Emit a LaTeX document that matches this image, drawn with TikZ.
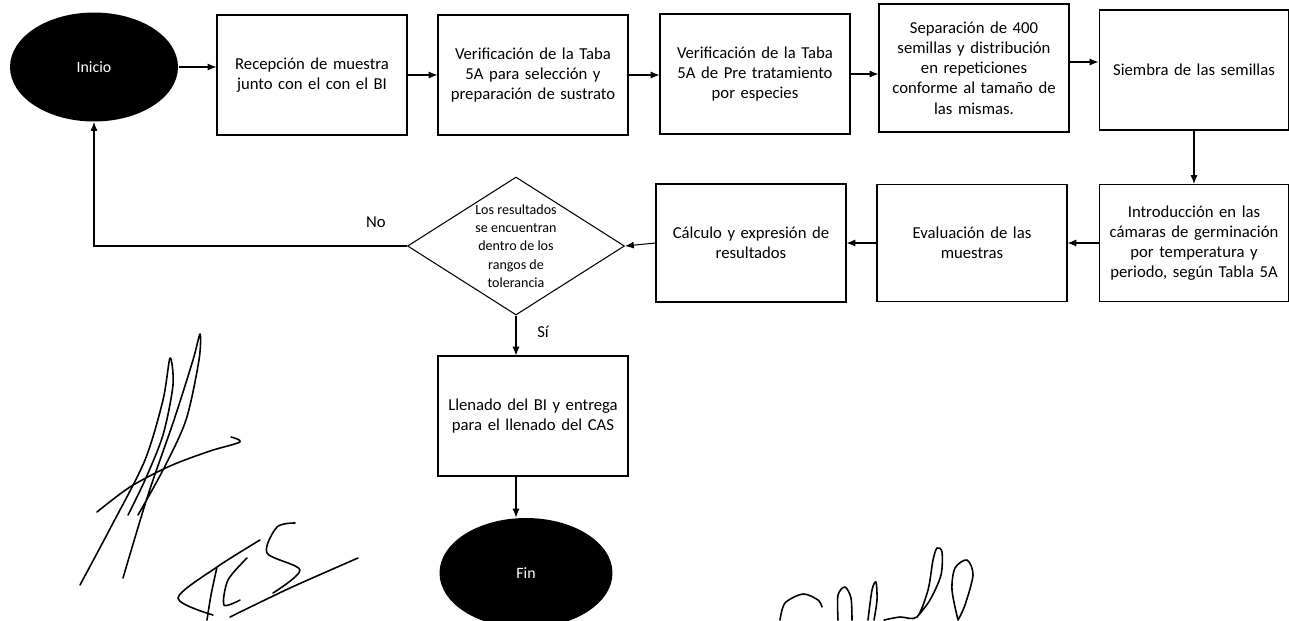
\documentclass[tikz,border=0pt]{standalone}
\usepackage{fontspec}
\setmainfont{Carlito}
\usepackage{tikz}
\usetikzlibrary{shapes.geometric,arrows.meta}

\begin{document}
\begin{tikzpicture}[x=0.02cm, y=-0.02cm, line width=0.6pt,
    paso/.style={draw, rectangle, minimum width=3.8cm, minimum height=2.4cm,
        inner xsep=0.04cm, text width=3.7cm, align=center, font=\fontsize{9.5}{11.5}\selectfont},
    terminal/.style={ellipse, fill=black, text=white, font=\fontsize{9}{10}\selectfont},
    decision/.style={draw, diamond, minimum width=4.34cm, minimum height=2.76cm, inner sep=0pt},
    textodec/.style={align=center, font=\fontsize{8}{10.4}\selectfont},
    etiqueta/.style={font=\fontsize{9.5}{11}\selectfont},
    flecha/.style={-{Latex[length=5pt,width=4pt]}},
    firma/.style={line width=0.9pt, line cap=round, line join=round}]
\useasboundingbox (0,0) rectangle (1289,620);

\node[terminal, minimum width=3.36cm, minimum height=2.18cm] (ini) at (94,67) {Inicio};
\node[paso] (recep) at (312,75) {Recepción de muestra\\ junto con el con el BI};
\node[paso] (verif1) at (533,75) {Verificación de la Taba\\ 5A para selección y\\ preparación de sustrato};
\node[paso] (verif2) at (755,74) {Verificación de la Taba\\ 5A de Pre tratamiento\\ por especies};
\node[paso, minimum height=2.56cm] (separ) at (974,68) {Separación de 400\\ semillas y distribución\\ en repeticiones\\ conforme al tamaño de\\ las mismas.};
\node[paso] (siembra) at (1194,70) {Siembra de las semillas};
\node[paso, minimum height=2.34cm] (intro) at (1194,243) {Introducción en las\\ cámaras de germinación\\ por temperatura y\\ periodo, según Tabla 5A};
\node[paso, minimum height=2.34cm] (evalua) at (972,243) {Evaluación de las\\ muestras};
\node[paso, minimum height=2.36cm] (calculo) at (751,243) {Cálculo y expresión de\\ resultados};
\node[decision, label={[textodec]center:Los resultados\\ se encuentran\\ dentro de los\\ rangos de\\ tolerancia}] (rango) at (516,246) {};
\node[paso] (llenado) at (533,416) {Llenado del BI y entrega\\ para el llenado del CAS};
\node[terminal, minimum width=3.46cm, minimum height=2.2cm] (fin) at (526,573) {Fin};

\node[etiqueta] (no) at (376,222) {No};
\node[etiqueta] (si) at (543,332) {Sí};

\draw[flecha] (ini.east) -- (ini.east -| recep.west);
\draw[flecha] (recep.east) -- (recep.east -| verif1.west);
\draw[flecha] (verif1.east) -- (verif1.east -| verif2.west);
\draw[flecha] (verif2.east) -- (verif2.east -| separ.west);
\draw[flecha] (separ.east |- 0,62) -- (siembra.west |- 0,62);
\draw[flecha] (siembra.south) -- (intro.north);
\draw[flecha] (intro.west) -- (evalua.east);
\draw[flecha] (evalua.west) -- (calculo.east);
\draw[flecha] (calculo.west) -- (rango.east);
\draw[flecha] (rango.south) -- (rango.south |- llenado.north);
\draw[flecha] (llenado.south -| rango.south) -- (rango.south |- fin.north);
\draw[flecha] (rango.west) -- (ini.south |- rango.west) -- (ini.south);

\draw[firma] plot[smooth] coordinates {(80,585) (112,525) (145,460) (163,400) (170,358) (173,385) (163,435) (145,480) (128,515)};
\draw[firma] plot[smooth] coordinates {(123,578) (148,495) (174,420) (193,360) (200,334) (199,360) (186,420) (163,470) (138,515)};
\draw[firma] plot[smooth] coordinates {(97,512) (130,487) (170,466) (210,451) (240,442) (231,437)};
\draw[firma] plot[smooth] coordinates {(260,540) (217,567) (178,598) (213,615)};
\draw[firma] plot[smooth] coordinates {(217,567) (211,595) (207,620)};
\draw[firma] plot[smooth] coordinates {(247,558) (228,580) (224,605) (240,600)};
\draw[firma] plot[smooth] coordinates {(295,523) (277,527) (267,553) (300,570) (273,593)};
\draw[firma] plot[smooth] coordinates {(230,617) (290,588) (358,558)};
\draw[firma] plot[smooth] coordinates {(780,620) (785,603) (803,594) (818,600) (822,607)};
\draw[firma] plot[smooth] coordinates {(838,620) (838,595) (845,587) (851,598) (852,620)};
\draw[firma] plot[smooth] coordinates {(868,620) (872,590) (876,582) (877,600) (874,620)};
\draw[firma] plot[smooth] coordinates {(884,620) (900,617) (917,617) (928,590) (933,560) (937,548) (942,552) (941,575) (930,600) (917,617)};
\draw[firma] plot[smooth] coordinates {(958,620) (952,590) (955,568) (967,560) (973,575) (965,605) (958,620)};
\end{tikzpicture}
\end{document}
